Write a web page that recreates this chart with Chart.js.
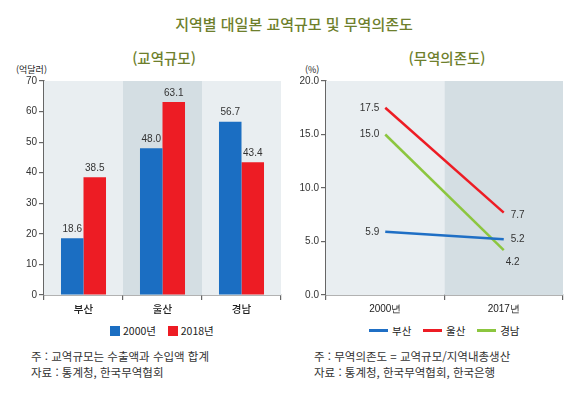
<!DOCTYPE html>
<html lang="ko">
<head>
<meta charset="UTF-8">
<title>지역별 대일본 교역규모 및 무역의존도</title>
<script src="https://cdn.jsdelivr.net/npm/chart.js"></script>
<style>
  body { margin: 0; background: #fff; font-family: "Noto Sans CJK KR", sans-serif; }
  #page { position: relative; width: 580px; height: 403px; overflow: hidden; }
  .txt { position: absolute; white-space: nowrap; line-height: 1; }
  .title { color: #6e7f2c; }
  .note { font-size: 11.5px; color: #333; }
  .chartbox { position: absolute; top: 70px; width: 290px; height: 250px; }
  .chartbox canvas { display: block; }
  .lg { position: absolute; top: 323px; font-size: 10.5px; color: #222; white-space: nowrap; }
  .sw { display: inline-block; width: 10px; height: 10px; vertical-align: -1px; margin-right: 3px; }
  .ln { display: inline-block; width: 19px; height: 3px; vertical-align: 3px; margin-right: 4px; }
</style>
</head>
<body>
<div id="page">
  <div class="txt title" style="left:4px;width:580px;text-align:center;top:16px;font-size:15px;font-weight:500;">지역별 대일본 교역규모 및 무역의존도</div>
  <div class="txt title" style="left:114px;width:100px;text-align:center;top:51px;font-size:14.5px;font-weight:500;">(교역규모)</div>
  <div class="txt title" style="left:397px;width:100px;text-align:center;top:51px;font-size:14.5px;font-weight:500;">(무역의존도)</div>
  <div class="txt" style="left:16px;top:65px;font-size:9px;color:#222;">(억달러)</div>
  <div class="txt" style="left:305px;top:65px;font-size:9px;color:#222;">(%)</div>

  <div class="chartbox" style="left:0;"><canvas id="tradeChart" width="290" height="250"></canvas></div>
  <div class="chartbox" style="left:290px;"><canvas id="depChart" width="290" height="250"></canvas></div>

  <div class="lg" style="left:110px;"><span class="sw" style="background:#1b6ec2"></span>2000년&nbsp;&nbsp;&nbsp;&nbsp;<span class="sw" style="background:#ed1c24"></span>2018년</div>
  <div class="lg" style="left:369px;"><span class="ln" style="background:#1f6fc5"></span>부산&nbsp;&nbsp;&nbsp;&nbsp;<span class="ln" style="background:#ed1c24"></span>울산&nbsp;&nbsp;&nbsp;&nbsp;<span class="ln" style="background:#8cc63f"></span>경남</div>

  <div class="txt note" style="left:31px;top:351px;">주 : 교역규모는 수출액과 수입액 합계</div>
  <div class="txt note" style="left:31px;top:367px;">자료 : 통계청, 한국무역협회</div>
  <div class="txt note" style="left:314px;top:351px;">주 : 무역의존도 = 교역규모/지역내총생산</div>
  <div class="txt note" style="left:314px;top:367px;">자료 : 통계청, 한국무역협회, 한국은행</div>
</div>

<script>
// ---- data ----
const regions = ['부산', '울산', '경남'];
const trade2000 = [18.6, 48.0, 56.7];
const trade2018 = [38.5, 63.1, 43.4];

const years = ['2000년', '2017년'];
const depBusan = [5.9, 5.2];
const depUlsan = [17.5, 7.7];
const depGyeongnam = [15.0, 4.2];

const tradeTicks = [0, 10, 20, 30, 40, 50, 60, 70];
const depTicks = [0, 5, 10, 15, 20];

// ---- shared bits ----
const bandColors = ['#e9eef1', '#d4dee3'];
const axisColor = '#666';
const tickFont = { family: 'Liberation Sans', size: 10 };

// shaded column behind each category
const bandPlugin = {
  id: 'bands',
  beforeDatasetsDraw(chart, args, opts) {
    const { ctx, chartArea, scales } = chart;
    const x = scales.x;
    const n = x.ticks.length;
    const w = (chartArea.right - chartArea.left) / n;
    ctx.save();
    for (let i = 0; i < n; i++) {
      ctx.fillStyle = opts.colors[i % opts.colors.length];
      ctx.fillRect(chartArea.left + i * w, chartArea.top, w, chartArea.bottom - chartArea.top);
    }
    ctx.restore();
  }
};

// value labels
const labelPlugin = {
  id: 'valueLabels',
  afterDatasetsDraw(chart, args, opts) {
    const { ctx } = chart;
    ctx.save();
    ctx.font = '10px "Liberation Sans"';
    ctx.fillStyle = '#333';
    chart.data.datasets.forEach((ds, di) => {
      const meta = chart.getDatasetMeta(di);
      meta.data.forEach((el, i) => {
        const txt = ds.data[i].toFixed(1);
        if (chart.config.type === 'bar') {
          ctx.textAlign = 'center';
          ctx.textBaseline = 'bottom';
          ctx.fillText(txt, el.x, el.y - 4);
        } else {
          const off = opts.offsets[di][i];
          ctx.textAlign = off[0] < 0 ? 'right' : 'left';
          ctx.textBaseline = 'middle';
          ctx.fillText(txt, el.x + off[0], el.y + off[1]);
        }
      });
    });
    ctx.restore();
  }
};

function fixedWidth(w) { return s => { s.width = w; }; }
function fixedHeight(h) { return s => { s.height = h; }; }

// ---- 교역규모 bar chart ----
new Chart(document.getElementById('tradeChart'), {
  type: 'bar',
  data: {
    labels: regions,
    datasets: [
      { label: '2000년', data: trade2000, backgroundColor: '#1b6ec2' },
      { label: '2018년', data: trade2018, backgroundColor: '#ed1c24' }
    ]
  },
  options: {
    responsive: false,
    animation: false,
    devicePixelRatio: 1,
    layout: { padding: { top: 11, right: 9, bottom: 0, left: 0 } },
    datasets: { bar: { categoryPercentage: 0.57, barPercentage: 1 } },
    plugins: {
      legend: { display: false },
      tooltip: { enabled: false },
      bands: { colors: [bandColors[0], bandColors[1], bandColors[0]] },
      valueLabels: {}
    },
    scales: {
      x: {
        afterFit: fixedHeight(25),
        grid: { drawOnChartArea: false, offset: true, tickLength: 5, color: axisColor, lineWidth: 1.2 },
        border: { color: axisColor, width: 1.5 },
        ticks: { color: '#222', font: { family: 'Noto Sans CJK KR', size: 10.5, weight: '500' }, padding: 3 }
      },
      y: {
        min: 0, max: 70,
        afterFit: fixedWidth(44),
        afterBuildTicks: s => { s.ticks = tradeTicks.map(v => ({ value: v })); },
        grid: { drawOnChartArea: false, tickLength: 5, color: axisColor, lineWidth: 1.2 },
        border: { color: axisColor, width: 1.5 },
        ticks: { color: '#333', font: tickFont, padding: 2 }
      }
    }
  },
  plugins: [bandPlugin, labelPlugin]
});

// ---- 무역의존도 line chart ----
new Chart(document.getElementById('depChart'), {
  type: 'line',
  data: {
    labels: years,
    datasets: [
      { label: '부산', data: depBusan, borderColor: '#1f6fc5' },
      { label: '울산', data: depUlsan, borderColor: '#ed1c24' },
      { label: '경남', data: depGyeongnam, borderColor: '#8cc63f' }
    ]
  },
  options: {
    responsive: false,
    animation: false,
    devicePixelRatio: 1,
    layout: { padding: { top: 11, right: 17, bottom: 0, left: 0 } },
    elements: { line: { borderWidth: 2.5, tension: 0 }, point: { radius: 0 } },
    plugins: {
      legend: { display: false },
      tooltip: { enabled: false },
      bands: { colors: bandColors },
      valueLabels: {
        offsets: [
          [[-6, 0], [7, 0]],
          [[-6, 0], [7, 3]],
          [[-6, 0], [2, 12]]
        ]
      }
    },
    scales: {
      x: {
        offset: true,
        afterFit: fixedHeight(25),
        grid: { drawOnChartArea: false, offset: true, tickLength: 5, color: axisColor, lineWidth: 1.2 },
        border: { color: axisColor, width: 1.5 },
        ticks: { color: '#222', font: { family: 'Liberation Sans', size: 10 }, padding: 3 }
      },
      y: {
        min: 0, max: 20,
        afterFit: fixedWidth(36),
        afterBuildTicks: s => { s.ticks = depTicks.map(v => ({ value: v })); },
        grid: { drawOnChartArea: false, tickLength: 5, color: axisColor, lineWidth: 1.2 },
        border: { color: axisColor, width: 1.5 },
        ticks: { color: '#333', font: tickFont, padding: 2, callback: v => v.toFixed(1) }
      }
    }
  },
  plugins: [bandPlugin, labelPlugin]
});
</script>
</body>
</html>
